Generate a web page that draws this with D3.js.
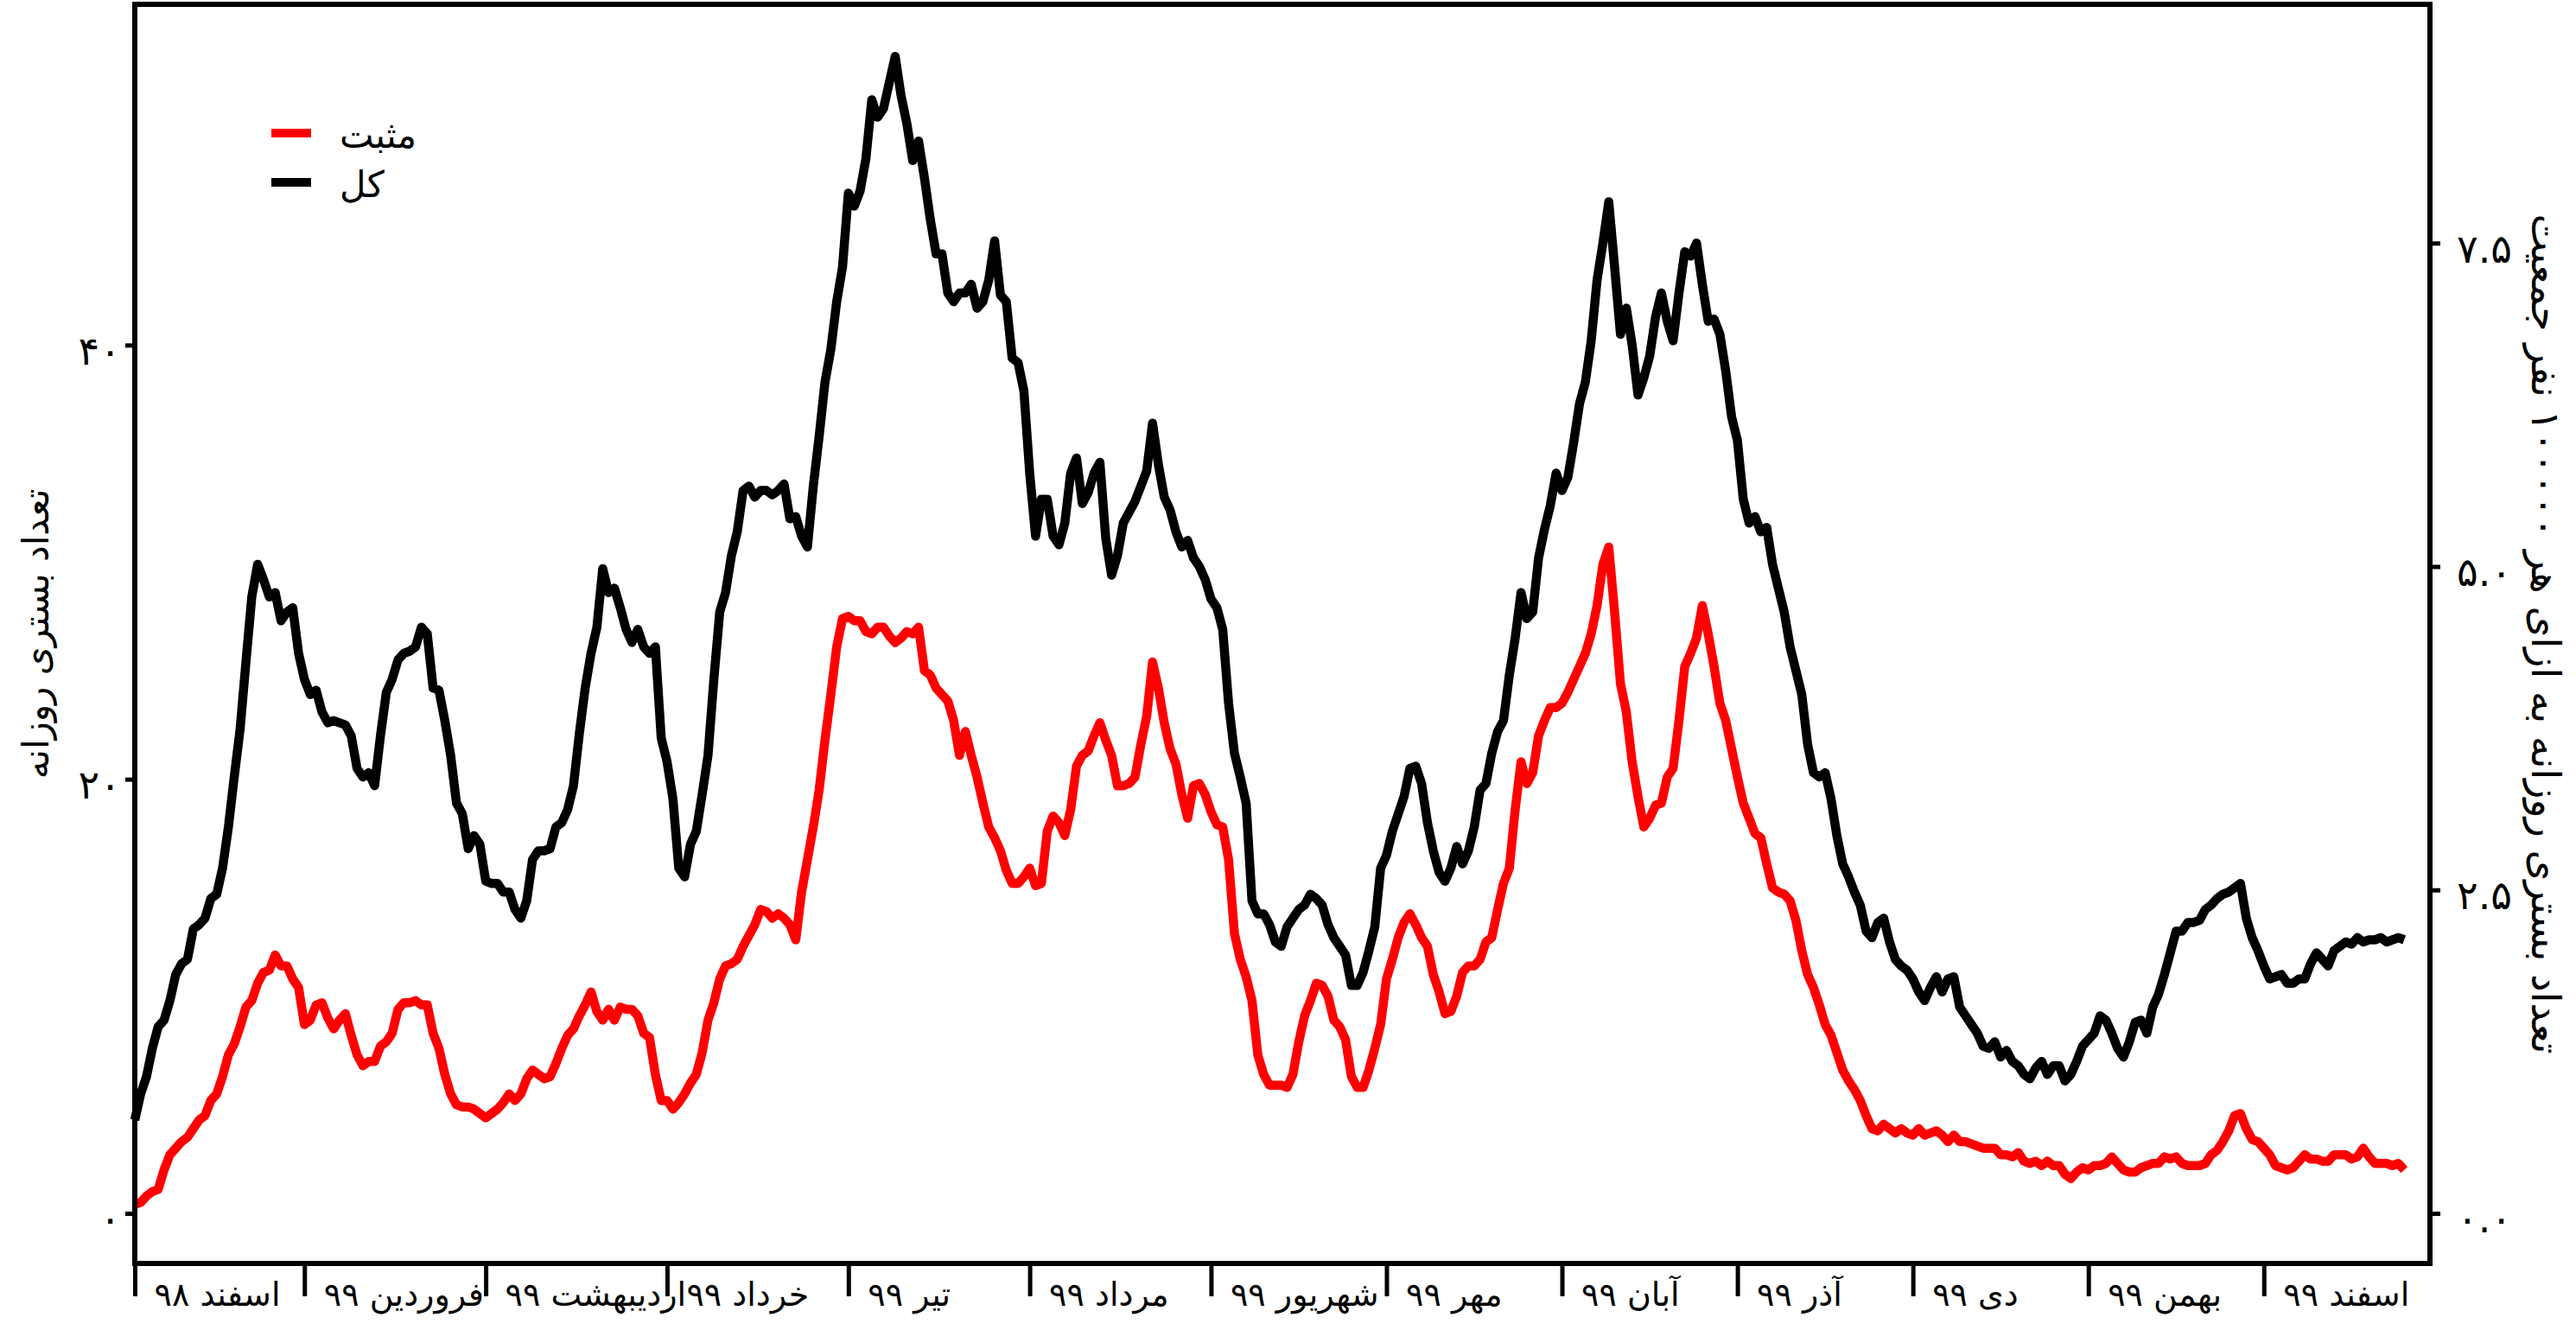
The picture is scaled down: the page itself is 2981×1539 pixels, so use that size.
<!DOCTYPE html>
<html>
<head>
<meta charset="utf-8">
<script src="https://d3js.org/d3.v7.min.js"></script>
<style>
  body { margin: 0; background: #fff; }
  svg text { font-family: "DejaVu Sans", sans-serif; fill: #000; }
</style>
</head>
<body>
<div id="chart"></div>
<script>
// daily hospitalised (total) and positive, starting 1 Esfand 1398
var total = [
  4.3, 5.5, 6.3, 7.6, 8.6, 8.9, 9.8, 11.0, 11.5, 11.7,
  13.1, 13.3, 13.6, 14.5, 14.7, 15.9, 17.8, 20.1, 22.3, 25.4,
  28.4, 29.9, 29.2, 28.4, 28.6, 27.3, 27.7, 27.9, 25.8, 24.6,
  23.9, 24.1, 23.1, 22.6, 22.7, 22.6, 22.5, 22.0, 20.5, 20.1,
  20.3, 19.7, 22.0, 24.0, 24.6, 25.5, 25.8, 25.9, 26.1, 27.0,
  26.7, 24.2, 24.1, 22.7, 21.1, 18.9, 18.4, 16.8, 17.4, 17.0,
  15.3, 15.2, 15.2, 14.8, 14.8, 14.0, 13.6, 14.4, 16.3, 16.7,
  16.7, 16.8, 17.8, 18.0, 18.6, 19.7, 22.1, 24.2, 25.8, 27.0,
  29.7, 28.6, 28.8, 27.9, 26.9, 26.3, 26.9, 26.1, 25.8, 26.1,
  21.9, 20.8, 19.1, 15.9, 15.5, 17.0, 17.6, 19.3, 21.1, 24.6,
  27.7, 28.6, 30.3, 31.4, 33.3, 33.5, 33.0, 33.3, 33.3, 33.1,
  33.3, 33.6, 32.0, 32.1, 31.2, 30.7, 33.5, 35.8, 38.3, 39.8,
  42.0, 43.6, 47.0, 46.4, 47.1, 48.6, 51.3, 50.5, 50.9, 52.1,
  53.3, 51.5, 50.2, 48.5, 49.4, 47.7, 45.8, 44.2, 44.2, 42.4,
  42.0, 42.4, 42.4, 42.8, 41.7, 42.0, 43.0, 44.8, 42.3, 42.0,
  39.4, 39.2, 37.9, 34.1, 31.2, 32.9, 32.9, 31.2, 30.8, 31.8,
  34.1, 34.8, 32.7, 33.2, 34.1, 34.6, 31.1, 29.4, 30.3, 31.8,
  32.3, 32.8, 33.5, 34.2, 36.4, 34.5, 33.0, 32.4, 31.4, 30.7,
  31.0, 30.2, 29.8, 29.2, 28.3, 27.9, 26.9, 23.5, 21.2, 20.1,
  18.9, 14.4, 13.8, 13.8, 13.3, 12.5, 12.3, 13.2, 13.6, 14.0,
  14.2, 14.7, 14.5, 14.2, 13.3, 12.7, 12.3, 11.9, 10.5, 10.5,
  11.1, 12.1, 13.2, 15.9, 16.5, 17.6, 18.4, 19.2, 20.5, 20.6,
  19.8, 18.0, 16.7, 15.7, 15.3, 15.9, 16.9, 16.1, 16.7, 17.8,
  19.5, 19.8, 21.2, 22.2, 22.7, 24.8, 26.5, 28.6, 27.4, 27.7,
  30.2, 31.5, 32.6, 34.1, 33.3, 33.9, 35.5, 37.3, 38.3, 40.2,
  43.0, 44.7, 46.6, 43.6, 40.5, 41.7, 40.0, 37.7, 38.5, 39.5,
  41.3, 42.4, 41.1, 40.2, 42.4, 44.3, 44.1, 44.7, 42.8, 41.1,
  41.2, 40.5, 38.8, 36.7, 35.6, 32.9, 31.8, 32.1, 31.4, 31.6,
  29.9, 28.8, 27.7, 26.1, 25.0, 23.9, 21.6, 20.3, 20.1, 20.3,
  19.1, 17.4, 16.1, 15.5, 14.8, 14.2, 13.0, 12.7, 13.4, 13.6,
  12.5, 11.7, 11.4, 11.2, 10.8, 10.2, 9.8, 10.4, 10.9, 10.2,
  10.8, 10.9, 9.5, 9.1, 8.7, 8.3, 7.7, 7.6, 7.9, 7.2,
  7.5, 7.0, 6.8, 6.4, 6.2, 6.7, 7.0, 6.4, 6.8, 6.8,
  6.1, 6.4, 7.0, 7.7, 8.0, 8.3, 9.1, 8.9, 8.3, 7.6,
  7.2, 7.9, 8.8, 8.9, 8.3, 9.5, 10.1, 11.0, 12.0, 13.0,
  13.0, 13.4, 13.4, 13.5, 14.0, 14.2, 14.5, 14.7, 14.8, 15.0,
  15.2, 13.6, 12.7, 12.1, 11.4, 10.8, 10.9, 11.0, 10.6, 10.6,
  10.8, 10.8, 11.5, 12.0, 11.7, 11.4, 12.1, 12.3, 12.5, 12.4,
  12.7, 12.5, 12.6, 12.6, 12.7, 12.5, 12.6, 12.7, 12.6
];

var positive = [
  0.4, 0.5, 0.8, 1.0, 1.1, 2.0, 2.7, 3.0, 3.3, 3.5,
  3.9, 4.3, 4.5, 5.2, 5.5, 6.3, 7.3, 7.8, 8.6, 9.5,
  9.8, 10.6, 11.1, 11.2, 11.9, 11.4, 11.4, 10.8, 10.4, 8.7,
  8.9, 9.6, 9.7, 9.0, 8.5, 8.9, 9.2, 8.2, 7.3, 6.8,
  7.0, 7.0, 7.7, 7.9, 8.3, 9.4, 9.7, 9.7, 9.8, 9.6,
  9.6, 8.3, 7.6, 6.4, 5.5, 5.0, 4.9, 4.9, 4.8, 4.6,
  4.4, 4.6, 4.8, 5.1, 5.5, 5.2, 5.5, 6.2, 6.6, 6.4,
  6.2, 6.3, 6.9, 7.6, 8.2, 8.5, 9.1, 9.6, 10.2, 9.3,
  8.9, 9.4, 8.9, 9.5, 9.4, 9.4, 9.1, 8.3, 8.1, 6.4,
  5.2, 5.2, 4.8, 5.1, 5.5, 6.0, 6.4, 7.4, 8.9, 9.7,
  10.8, 11.4, 11.5, 11.7, 12.3, 12.8, 13.3, 14.0, 13.9, 13.6,
  13.8, 13.6, 13.3, 12.6, 14.8, 16.3, 17.8, 19.5, 21.8, 23.9,
  26.1, 27.4, 27.5, 27.3, 27.3, 26.8, 26.7, 27.0, 27.0, 26.6,
  26.3, 26.5, 26.8, 26.7, 27.0, 25.0, 24.8, 24.2, 23.9, 23.6,
  22.7, 21.1, 22.2, 21.1, 20.1, 18.9, 17.8, 17.3, 16.7, 15.8,
  15.2, 15.2, 15.5, 15.9, 15.1, 15.2, 17.6, 18.3, 18.0, 17.4,
  18.6, 20.6, 21.1, 21.3, 22.0, 22.6, 21.8, 21.1, 19.7, 19.7,
  19.8, 20.1, 21.6, 22.9, 25.4, 24.2, 22.6, 21.4, 20.7, 19.3,
  18.2, 19.7, 19.8, 19.3, 18.5, 17.9, 17.8, 16.3, 12.9, 11.7,
  10.9, 9.8, 7.3, 6.4, 5.9, 5.9, 5.9, 5.8, 6.4, 7.9,
  9.1, 9.8, 10.6, 10.5, 10.0, 8.9, 8.6, 8.0, 6.3, 5.8,
  5.8, 6.6, 7.6, 8.7, 10.8, 11.7, 12.7, 13.4, 13.8, 13.3,
  12.7, 12.3, 11.0, 10.2, 9.2, 9.3, 10.0, 11.1, 11.4, 11.4,
  11.7, 12.5, 12.7, 14.0, 15.2, 15.9, 18.6, 20.8, 19.8, 20.3,
  22.0, 22.7, 23.3, 23.3, 23.5, 24.0, 24.6, 25.2, 25.8, 26.7,
  28.0, 29.9, 30.7, 27.7, 24.4, 23.1, 20.8, 19.2, 17.8, 18.2,
  18.8, 18.9, 20.1, 20.5, 22.7, 25.2, 25.8, 26.5, 28.0, 26.7,
  25.2, 23.5, 22.7, 21.4, 20.1, 18.9, 18.2, 17.5, 17.3, 16.1,
  15.0, 14.8, 14.7, 14.4, 13.5, 12.1, 11.0, 10.4, 9.6, 8.7,
  8.2, 7.4, 6.6, 6.1, 5.7, 5.2, 4.5, 3.9, 3.8, 4.1,
  3.9, 3.7, 3.9, 3.7, 3.6, 3.9, 3.6, 3.7, 3.8, 3.6,
  3.3, 3.6, 3.3, 3.3, 3.2, 3.1, 3.0, 3.0, 3.0, 2.7,
  2.7, 2.6, 2.8, 2.4, 2.3, 2.4, 2.2, 2.4, 2.2, 2.2,
  1.8, 1.6, 1.9, 2.1, 2.0, 2.2, 2.2, 2.3, 2.6, 2.3,
  2.0, 1.9, 1.9, 2.1, 2.2, 2.3, 2.3, 2.6, 2.5, 2.6,
  2.3, 2.2, 2.2, 2.2, 2.3, 2.7, 2.9, 3.3, 3.8, 4.5,
  4.6, 3.9, 3.4, 3.3, 3.0, 2.7, 2.2, 2.1, 2.0, 2.1,
  2.4, 2.7, 2.5, 2.5, 2.4, 2.4, 2.7, 2.7, 2.7, 2.5,
  2.6, 3.0, 2.6, 2.3, 2.3, 2.3, 2.2, 2.3, 2.0
];

// first day of each month, counted from 1 Esfand 1398
var monthStarts = [0, 29, 60, 91, 122, 153, 184, 214, 244, 274, 304, 334, 364];
var monthLabels = ["اسفند ۹۸", "فروردین ۹۹", "اردیبهشت ۹۹", "خرداد ۹۹", "تیر ۹۹", "مرداد ۹۹",
  "شهریور ۹۹", "مهر ۹۹", "آبان ۹۹", "آذر ۹۹", "دی ۹۹", "بهمن ۹۹", "اسفند ۹۹"];
var leftTicks = [0, 20, 40];
var rightTicks = [0, 2.5, 5, 7.5];
var seriesNames = ["مثبت", "کل"];
var seriesColors = ["#ff0000", "#000000"];
var perHundredK = 100000 / 596000;

var W = 2981, H = 1539;
var margin = { top: 5, right: 169, bottom: 77, left: 156 };
var width = W - margin.left - margin.right;
var height = H - margin.top - margin.bottom;

function fa(s) {
  return String(s).replace(/[0-9]/g, function(c) { return "۰۱۲۳۴۵۶۷۸۹"[+c]; });
}

var svgRoot = d3.select("#chart").append("svg")
  .attr("width", W)
  .attr("height", H);

var svg = svgRoot.append("g")
  .attr("transform", "translate(" + margin.left + "," + margin.top + ")");

var x = d3.scaleLinear().domain([0, 392.4]).range([0, width]);
var y = d3.scaleLinear().domain([-2.31, 55.7]).range([height, 0]);
var yRight = d3.scaleLinear().domain([-2.31 * perHundredK, 55.7 * perHundredK]).range([height, 0]);

// lines
var line = d3.line()
  .x(function(d, i) { return x(i); })
  .y(function(d) { return y(d); });

svg.append("path")
  .datum(positive)
  .attr("d", line)
  .attr("fill", "none")
  .attr("stroke", seriesColors[0])
  .attr("stroke-width", 10.5)
  .attr("stroke-linejoin", "round");

svg.append("path")
  .datum(total)
  .attr("d", line)
  .attr("fill", "none")
  .attr("stroke", seriesColors[1])
  .attr("stroke-width", 10.5)
  .attr("stroke-linejoin", "round");

// axes
var gLeft = svg.append("g")
  .call(d3.axisLeft(y).tickValues(leftTicks).tickSize(11).tickFormat(fa));
gLeft.select(".domain").remove();
gLeft.selectAll("line").attr("stroke-width", 5);
gLeft.selectAll("text")
  .attr("x", -16).attr("y", 22).attr("dy", null)
  .style("font-size", "46px")
  .style("letter-spacing", "4px");

var gRight = svg.append("g")
  .attr("transform", "translate(" + width + ",0)")
  .call(d3.axisRight(yRight).tickValues(rightTicks).tickSize(12)
    .tickFormat(function(d) { return fa(d.toFixed(1)); }));
gRight.select(".domain").remove();
gRight.selectAll("line").attr("stroke-width", 5);
gRight.selectAll("text")
  .attr("x", 31).attr("y", 22).attr("dy", null)
  .style("font-size", "46px")
  .style("letter-spacing", "6px");

var gBottom = svg.append("g")
  .attr("transform", "translate(0," + height + ")")
  .call(d3.axisBottom(x).tickValues(monthStarts).tickSize(38)
    .tickFormat(function(d, i) { return monthLabels[i]; }));
gBottom.select(".domain").remove();
gBottom.selectAll("line").attr("stroke-width", 5);
gBottom.selectAll("text")
  .attr("x", 22).attr("y", 49).attr("dy", null)
  .attr("text-anchor", "start")
  .style("font-size", "38px");

// frame
svg.append("rect")
  .attr("width", width)
  .attr("height", height)
  .attr("fill", "none")
  .attr("stroke", "#000")
  .attr("stroke-width", 6);

// axis titles
svgRoot.append("text")
  .attr("transform", "translate(41," + (margin.top + height / 2) + ") rotate(-90)")
  .attr("text-anchor", "middle")
  .attr("dominant-baseline", "central")
  .style("font-size", "42px")
  .text("تعداد بستری روزانه");

svgRoot.append("text")
  .attr("transform", "translate(2946," + (margin.top + height / 2) + ") rotate(90)")
  .attr("text-anchor", "middle")
  .attr("dominant-baseline", "central")
  .style("font-size", "46px")
  .style("letter-spacing", "1px")
  .text("تعداد بستری روزانه به ازای هر ۱۰۰۰۰۰ نفر جمعیت");

// legend
var legend = svgRoot.selectAll(".legend")
  .data(seriesNames)
  .enter()
  .append("g")
  .attr("class", "legend")
  .attr("transform", function(d, i) { return "translate(314," + (154 + i * 57) + ")"; });

legend.append("line")
  .attr("x1", 0).attr("x2", 46)
  .attr("stroke", function(d, i) { return seriesColors[i]; })
  .attr("stroke-width", 10);

legend.append("text")
  .attr("x", 79)
  .attr("y", 17)
  .attr("text-anchor", "start")
  .style("font-size", "42px")
  .text(function(d) { return d; });
</script>
</body>
</html>
